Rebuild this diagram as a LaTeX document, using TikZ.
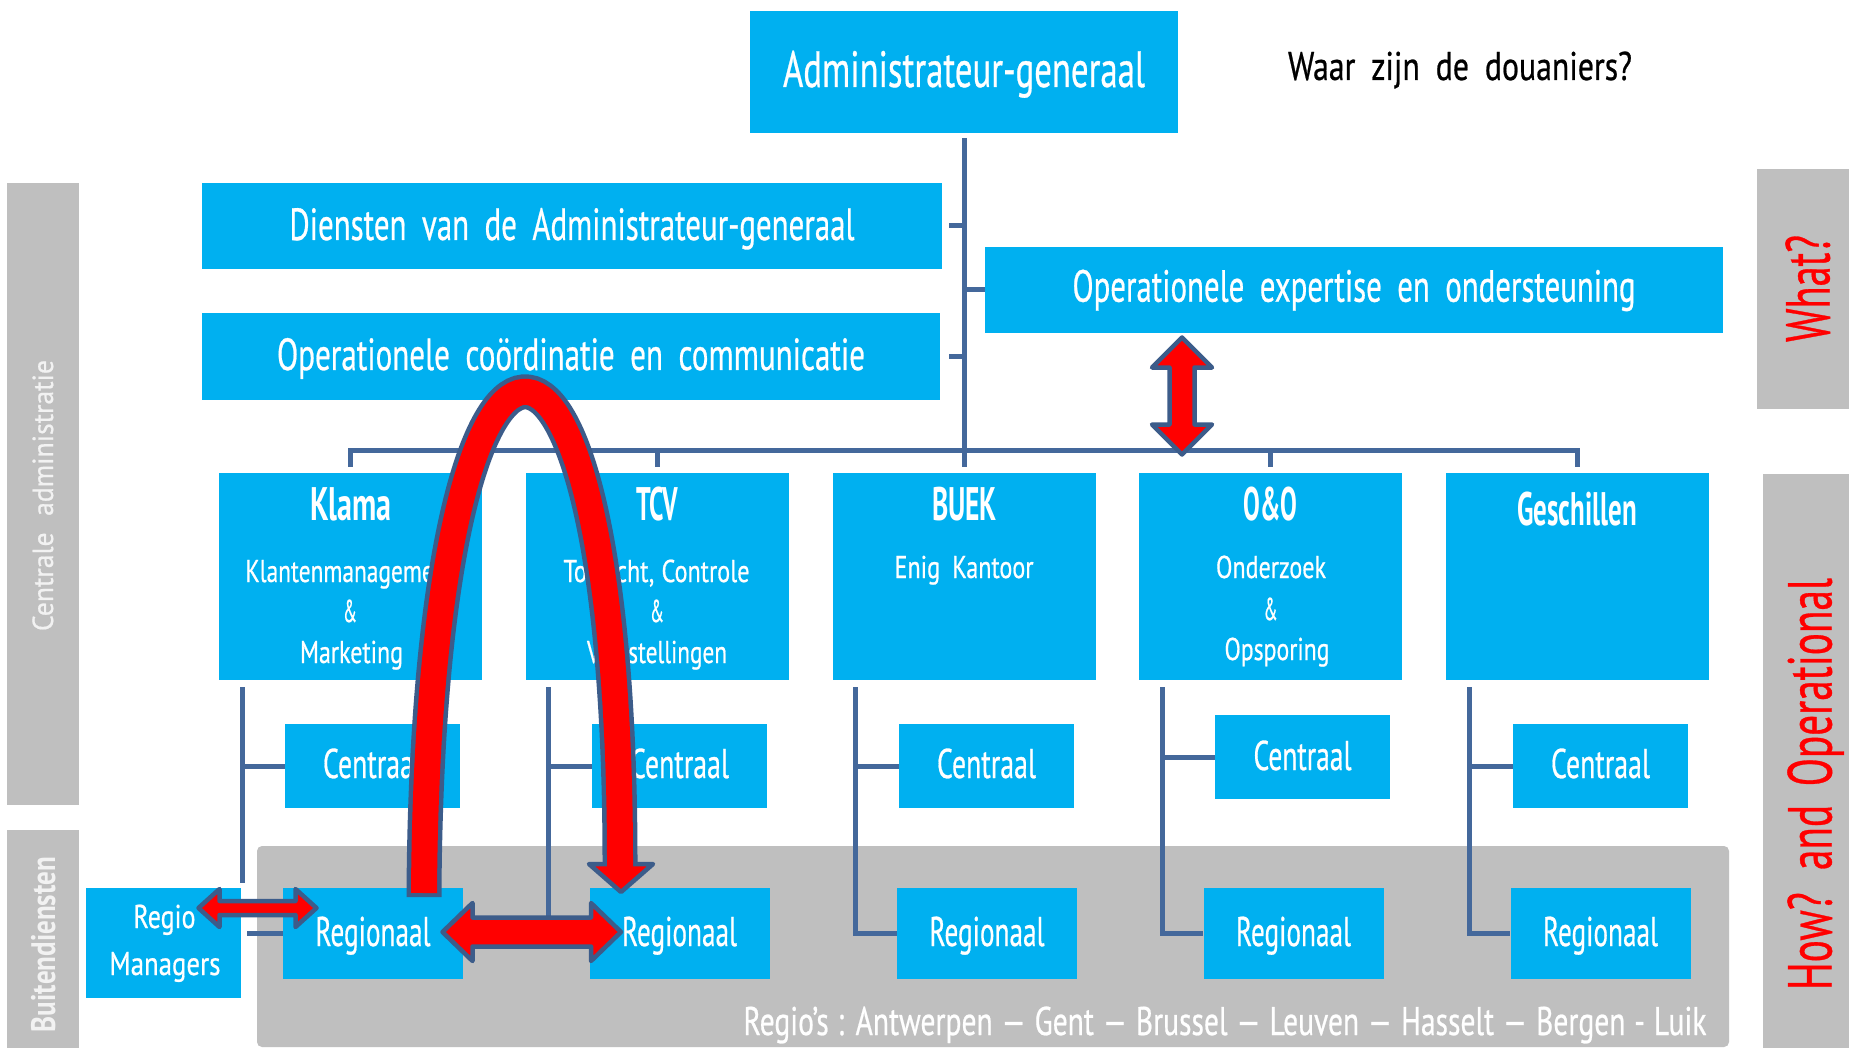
\documentclass[tikz,border=0pt]{standalone}
\usepackage{fontspec}
\setmainfont{PT Sans}[UprightFeatures={FakeBold=0.7}]
\usepackage{graphicx}
\usetikzlibrary{calc}
\definecolor{boxblue}{RGB}{0,176,240}
\definecolor{grayc}{RGB}{191,191,191}
\definecolor{linec}{RGB}{68,104,155}
\definecolor{arrline}{RGB}{60,92,138}
\definecolor{sidetext}{RGB}{242,242,242}
\newsavebox\fitbox
\newcommand\fitw[3][0.5em]{\sbox\fitbox{\spaceskip=#1\relax#3}\pgfmathsetmacro\fitsc{#2/\the\wd\fitbox}\scalebox{\fitsc}[1]{\usebox\fitbox}}
\newcommand\fsz[1]{\fontsize{#1}{#1}\selectfont}
\tikzset{
  box/.style={fill=boxblue, inner sep=0pt, text=white, text depth=0pt},
  cbox/.style={box, minimum width=175, minimum height=84, font=\fsz{41.5}, text height=24pt},
  rbox/.style={box, minimum width=180, minimum height=91, font=\fsz{41.5}, text height=25pt},
  colbox/.style={box, minimum width=263, minimum height=207},
  topbox/.style={box, font=\fsz{45}},
  bar/.style={fill=grayc, inner sep=0pt},
  conn/.style={draw=linec, line width=5pt},
  ttl/.style={anchor=base, inner sep=0pt, text=white, font=\bfseries\fsz{47}},
  sub/.style={anchor=base, inner sep=0pt, text=white, font=\fsz{31.5}},
  side/.style={inner sep=0pt, rotate=90, text depth=0pt},
  blk/.style={fill=red, draw=arrline, line width=4.5pt, line join=round},
  pics/dblarrow/.style n args={4}{code={%
    \draw[blk] (0,0) -- (#4,#2) -- (#4,#3) -- (#1-#4,#3) -- (#1-#4,#2) -- (#1,0)
      -- (#1-#4,-#2) -- (#1-#4,-#3) -- (#4,-#3) -- (#4,-#2) -- cycle;}}
}
\begin{document}
\begin{tikzpicture}[x=1pt,y=-1pt]
\useasboundingbox (0,0) rectangle (1849,1048);
\fill[white] (0,0) rectangle (1849,1048);

% grey bands
\node[bar, minimum width=72, minimum height=622] (cabar) at (43,494) {};
\node[bar, minimum width=72, minimum height=218] (bdbar) at (43,939) {};
\node[bar, minimum width=92, minimum height=240] (whatbar) at (1803,289) {};
\node[bar, minimum width=86, minimum height=574] (howbar) at (1806,761) {};
\node[bar, minimum width=1472, minimum height=201, rounded corners=5pt] (region) at (993,946.5) {};

% top boxes
\node[box, minimum width=428, minimum height=122, font=\fsz{51}, text height=30pt] (adm) at (964,72) {\fitw{362}{Administrateur-generaal}};
\node[topbox, minimum width=740, minimum height=86, text height=28pt] (dien) at (572,226) {\fitw{565}{Diensten van de Administrateur-generaal}};
\node[topbox, minimum width=738, minimum height=87, text height=27pt] (occ) at (571,356.5) {\fitw{588}{Operationele coördinatie en communicatie}};
\node[topbox, minimum width=738, minimum height=86, text height=23.4pt] (oeo) at (1354,290) {\fitw{563}{Operationele expertise en ondersteuning}};
\node[anchor=base, inner sep=0pt, font=\fsz{40}] (waar) at (1460,80) {\fitw{344}{Waar zijn de douaniers?}};

% columns
\node[colbox] (klama) at (350.5,576.5) {};
\node[colbox] (tcv) at (657.5,576.5) {};
\node[colbox] (buek) at (964.5,576.5) {};
\node[colbox] (oo) at (1270.5,576.5) {};
\node[colbox] (gesch) at (1577.5,576.5) {};

% Centraal / Regionaal
\node[cbox] (klamaC) at (372.5,766) {\fitw{99}{Centraal}};
\node[cbox] (tcvC) at (679.5,766) {\fitw{99}{Centraal}};
\node[cbox] (buekC) at (986.5,766) {\fitw{99}{Centraal}};
\node[cbox, text height=26pt] (ooC) at (1302.5,757) {\fitw{98}{Centraal}};
\node[cbox] (geschC) at (1600.5,766) {\fitw{99}{Centraal}};
\node[rbox] (klamaR) at (373,933.5) {\fitw{115}{Regionaal}};
\node[rbox] (tcvR) at (679.5,933.5) {\fitw{115}{Regionaal}};
\node[rbox] (buekR) at (987,933.5) {\fitw{115}{Regionaal}};
\node[rbox] (ooR) at (1293.5,933.5) {\fitw{115}{Regionaal}};
\node[rbox] (geschR) at (1600.5,933.5) {\fitw{115}{Regionaal}};
\node[box, minimum width=155, minimum height=110] (rm) at (163.5,943) {};

% connectors
\draw[conn] ($(adm.south)+(0,5)$) -- ($(adm.south |- buek.north)+(0,-6)$);
\draw[conn] ($(klama.north)+(0,-6)$) |- ($(gesch.north)+(0,-22)$) -- ($(gesch.north)+(0,-6)$);
\foreach \c in {tcv,oo} \draw[conn] ($(\c.north)+(0,-22)$) -- ($(\c.north)+(0,-6)$);
\draw[conn] ($(dien.east)+(7,0)$) -- (dien.east -| adm.south);
\draw[conn] ($(occ.east)+(9,0)$) -- (occ.east -| adm.south);
\draw[conn] (oeo.west -| adm.south) -- (oeo.west);

\draw[conn] ($(klama.south west)+(24,7)$) coordinate (kl) |- (klamaC.west);
\draw[conn] (kl) -- ($(kl |- rm.north)+(0,-5)$);
\coordinate (rmE) at ($(rm.east)+(6,0)$);
\draw[conn] (rmE |- klamaR.west) -- (klamaR.west);
\draw[conn] ($(tcv.south west)+(23,7)$) coordinate (tv) |- (tcvC.west);
\draw[conn] (tv) |- (tcvR.west);
\draw[conn] ($(buek.south west)+(23,7)$) coordinate (bu) |- (buekC.west);
\draw[conn] (bu) |- (buekR.west);
\draw[conn] ($(oo.south west)+(24,7)$) coordinate (oc) |- (ooC.west);
\draw[conn] (oc) |- (ooR.west);
\draw[conn] ($(gesch.south west)+(24,7)$) coordinate (ge) |- (geschC.west);
\draw[conn] (ge) |- (geschR.west);

% column texts
\node[ttl] (klamaT) at (351,520) {\fitw{81.5}{Klama}};
\node[sub] (klamaS1) at (350,582) {\fitw{209}{Klantenmanagement}};
\node[sub] (klamaS2) at (350,622) {\fitw{14}{\&}};
\node[sub] (klamaS3) at (351.5,663) {\fitw{103}{Marketing}};
\node[ttl] (tcvT) at (657,520) {\fitw{42}{TCV}};
\node[sub] (tcvS1) at (656.5,582) {\fitw[0.3em]{186}{Toezicht, Controle}};
\node[sub] (tcvS2) at (657,622) {\fitw{14}{\&}};
\node[sub] (tcvS3) at (657,663) {\fitw{140}{Vaststellingen}};
\node[ttl] (buekT) at (964.5,520) {\fitw{65}{BUEK}};
\node[sub] (buekS1) at (964,578) {\fitw{139}{Enig Kantoor}};
\node[ttl] (ooT) at (1270.6,520) {\fitw{54}{O\&O}};
\node[sub] (ooS1) at (1271,578) {\fitw{110}{Onderzoek}};
\node[sub] (ooS2) at (1270.6,620) {\fitw{14}{\&}};
\node[sub] (ooS3) at (1277,660) {\fitw{105}{Opsporing}};
\node[ttl] (geschT) at (1577,525) {\fitw{119.5}{Geschillen}};
\node[anchor=base, inner sep=0pt, text=white, font=\fsz{33}] (rmT1) at (164.5,928) {\fitw{62}{Regio}};
\node[anchor=base, inner sep=0pt, text=white, font=\fsz{33}] (rmT2) at (165,975) {\fitw{111}{Managers}};
\node[anchor=base, inner sep=0pt, text=white, font=\fsz{40}] (regios) at (1225,1035) {\fitw[0.3em]{963}{Regio’s : Antwerpen — Gent — Brussel — Leuven — Hasselt — Bergen - Luik}};

% side labels
\node[side, text=sidetext, font=\fsz{29}, text height=20pt] (catxt) at (43,495.5) {\fitw[0.6em]{271}{Centrale administratie}};
\node[side, text=sidetext, font=\bfseries\fsz{34}, text height=24pt] (bdtxt) at (43,944.5) {\fitw[0.3em]{175}{Buitendiensten}};
\node[side, text=red, font=\fsz{62}, text height=43pt] (whattxt) at (1808,288.5) {\fitw{107}{What?}};
\node[side, text=red, font=\fsz{62}, text height=43pt] (howtxt) at (1810,784) {\fitw[0.45em]{412}{How? and Operational}};

% red block arrows
\pic at (442.5,932) {dblarrow={178.5}{29}{14.5}{30}};
\pic at (198.5,908) {dblarrow={118}{19}{7}{21}};
\pic[rotate=-90] at (1182,337.5) {dblarrow={117}{30}{12.5}{30}};

% arch arrow
\draw[arrline, line width=35pt] (424,897) -- (424,893) .. controls (428,230) and (620,230) .. (620,862);
\draw[blk] (589,864) -- (621,892) -- (653,864) -- cycle;
\draw[red, line width=26pt] (424,893) .. controls (428,230) and (620,230) .. (620,862) -- (620,868);
\end{tikzpicture}
\end{document}
